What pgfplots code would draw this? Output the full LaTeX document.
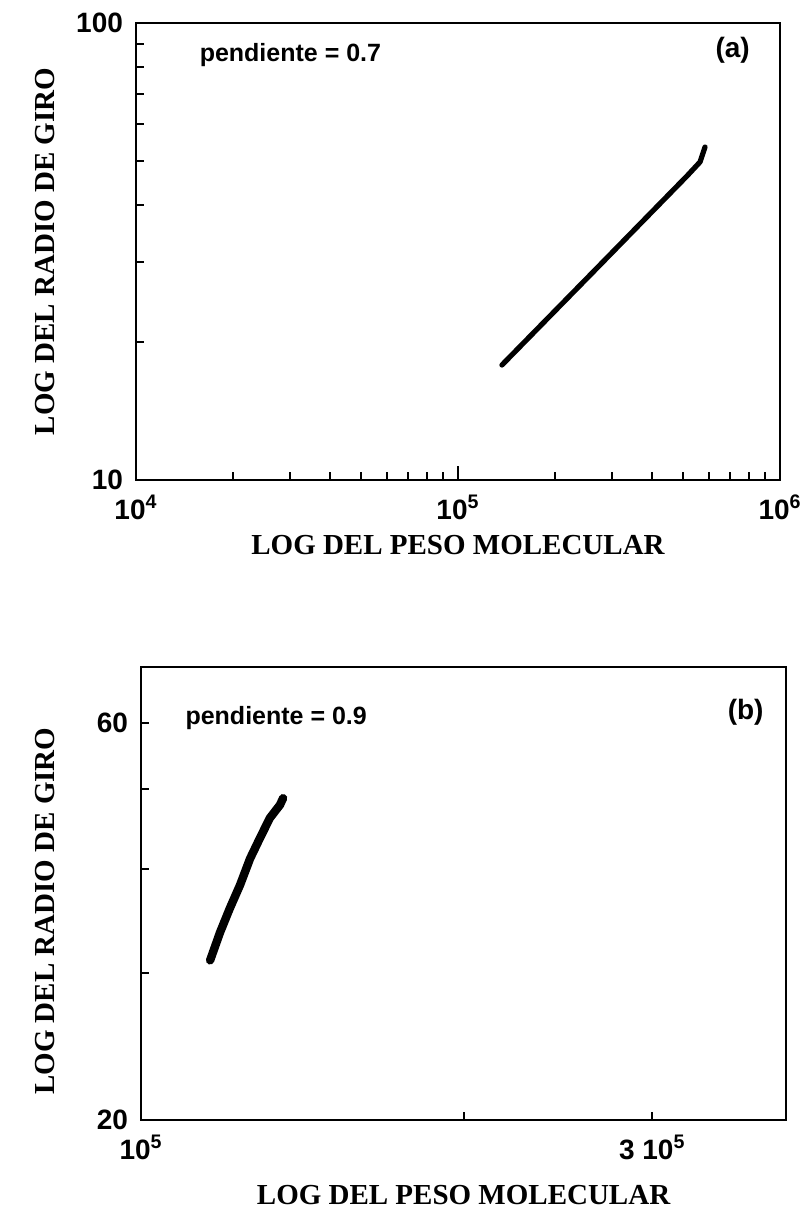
\documentclass[border=0pt]{standalone}
\usepackage{fontspec}
\setmainfont{Liberation Serif}
\newfontfamily\arial{Liberation Sans}
\usepackage{pgfplots}
\pgfplotsset{compat=1.18}

\pgfplotsset{
  giro/.style={
    scale only axis,
    axis line style={line width=1.2pt},
    every tick/.style={black, line width=1pt},
    tick align=inside,
    xtick pos=bottom,
    ytick pos=left,
    major tick length=7pt,
    minor tick length=4pt,
    tick label style={font=\arial\bfseries\fontsize{14}{14}\selectfont},
    xticklabel style={yshift=-4pt},
    yticklabel style={xshift=-3pt},
    label style={font=\bfseries\fontsize{14.5}{14.5}\selectfont},
  }
}

\begin{document}
\begin{tikzpicture}
\path[use as bounding box] (0,0) rectangle (403.5pt,-611pt);

% (a) Rg vs. Mw, pendiente 0.7
\begin{axis}[giro,
  at={(68pt,-11.5pt)}, anchor=north west,
  width=322pt, height=228.5pt,
  xmode=log, ymode=log,
  xmin=1e4, xmax=1e6, ymin=10, ymax=100,
  xtick={1e4,1e5,1e6},
  xticklabels={10\textsuperscript{4},10\textsuperscript{5},10\textsuperscript{6}},
  minor xtick={2e4,3e4,4e4,5e4,6e4,7e4,8e4,9e4,2e5,3e5,4e5,5e5,6e5,7e5,8e5,9e5},
  ytick={10,100},
  yticklabels={10,100},
  minor ytick={20,30,40,50,60,70,80,90},
  xlabel={LOG DEL PESO MOLECULAR},
  ylabel={LOG DEL RADIO DE GIRO},
  xlabel style={at={(axis description cs:0.5,-0.142)}, anchor=center},
  ylabel style={at={(axis description cs:-0.1413,0.5)}, anchor=center},
]
\addplot[black, line width=2.6pt, line cap=round, line join=round] coordinates {
  (1.369e5,17.85) (1.907e5,22.65) (2.654e5,28.73) (3.694e5,36.46)
  (5.142e5,46.27) (5.644e5,49.65) (5.85e5,53.55)
};
\node[font=\arial\bfseries\fontsize{12.5}{12.5}\selectfont, anchor=west] at (rel axis cs:0.088,0.93) {pendiente = 0.7};
\node[font=\arial\bfseries\fontsize{14}{14}\selectfont, anchor=east] at (rel axis cs:0.964,0.941) {(a)};
\end{axis}

% (b) Rg vs. Mw, pendiente 0.9
\begin{axis}[giro,
  at={(70.5pt,-333.5pt)}, anchor=north west,
  width=322.5pt, height=226.5pt,
  xmode=log, ymode=log,
  xmin=1e5, xmax=4e5, ymin=20, ymax=70,
  xtick={1e5,2e5,3e5},
  xticklabels={10\textsuperscript{5},,3 10\textsuperscript{5}},
  minor xtick={},
  major tick length=4pt,
  ytick={20,30,40,50,60},
  yticklabels={20,,,,60},
  xlabel={LOG DEL PESO MOLECULAR},
  ylabel={LOG DEL RADIO DE GIRO},
  xlabel style={at={(axis description cs:0.5,-0.166)}, anchor=center},
  ylabel style={at={(axis description cs:-0.1488,0.461)}, anchor=center},
]
\addplot[black, line width=4.2pt, line cap=round, line join=round] coordinates {
  (1.160e5,31.1) (1.185e5,33.6) (1.210e5,35.9) (1.237e5,38.3)
  (1.264e5,41.2) (1.291e5,43.6) (1.319e5,46.1) (1.348e5,47.8) (1.357e5,48.7)
};
\node[font=\arial\bfseries\fontsize{12.5}{12.5}\selectfont, anchor=west] at (rel axis cs:0.058,0.887) {pendiente = 0.9};
\node[font=\arial\bfseries\fontsize{14}{14}\selectfont, anchor=east] at (rel axis cs:0.976,0.90) {(b)};
\end{axis}
\end{tikzpicture}
\end{document}
